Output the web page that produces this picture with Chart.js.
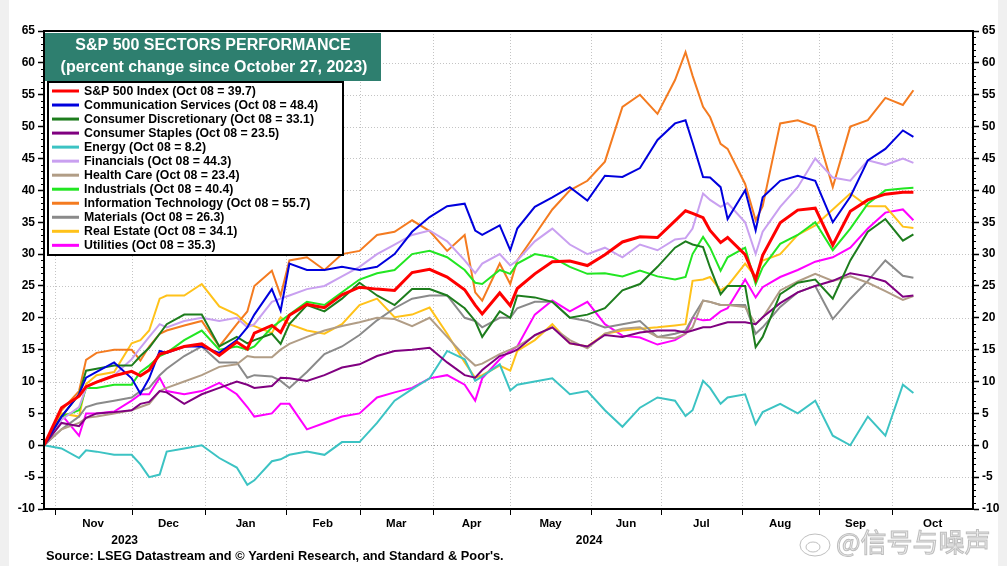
<!DOCTYPE html>
<html><head><meta charset="utf-8">
<script src="https://cdn.jsdelivr.net/npm/chart.js@4.4.1/dist/chart.umd.min.js"></script>
<style>
html,body{margin:0;padding:0;background:#fff;}
canvas{display:block;}
</style></head><body>
<canvas id="c" width="1007" height="566"></canvas>
<script>
// x = weekday index counted from Oct 27, 2023
const xDays = [0,5,10,12,15,20,25,27.5,30,33,35,40,45,50,55,58,60,65,67.5,70,75,80,85,90,95,100,105,110,115,120,123,125,130,133,135,140,145,150,155,160,165,170,175,180,183,185,188,190,193,195,200,203,205,210,215,220,225,230,235,240,245,248];
const monthStarts = [3,25,46,69,90,111,133,156,176,199,221,242,265];
const monthNames = ['Nov','Dec','Jan','Feb','Mar','Apr','May','Jun','Jul','Aug','Sep','Oct'];
const yearLabels = ['2023','2024'];
const yearSpans = [[0,46],[46,265]];

const spx = [0,5.9,7.7,9.2,9.9,10.9,11.6,10.9,11.8,14.3,14.6,15.5,15.9,14.1,16.2,15.1,17.6,18.8,17.7,20.4,22.1,21.6,23.6,24.8,24.5,24.3,27.1,27.6,26.4,24.4,22.0,20.6,23.9,21.9,24.6,26.9,28.8,28.9,28.2,29.9,31.9,32.7,32.6,35.2,36.8,36.4,35.7,33.7,31.8,32.6,29.9,26.0,29.8,34.9,36.9,37.2,31.4,36.7,38.5,39.4,39.7,39.7];
const comm = [0,4.5,8,10.6,11.5,13,10.5,8.1,10.5,14.8,14.5,15.5,15.5,14.5,16.5,18.5,20.5,24.5,21.1,28.5,27.5,27.5,28,27.5,28,30,33.5,35.8,37.5,37.9,33.7,33,34.5,30.6,34,37.4,38.9,40.5,38.4,42.3,42.1,43.5,47.9,50.5,51,47.5,42.1,42,40.5,35.5,40,33.7,38.9,41.5,42.3,41.5,35,39,44.7,46.5,49.4,48.4];
const discr = [0,4.5,8,11.7,12,12.5,12.5,14,15.3,17.5,19,20.5,20.5,15.5,17,16,16.5,17.5,15.9,19,22,21,23,25.5,23.5,22,24.5,24.5,23.5,21.5,19.5,17,21,20,23.5,23.2,22.5,20,20.5,21.5,24.3,25.3,28,31,32,31.5,31.1,27.9,23.7,25,25,15.4,17,23.7,25.5,26,23,29,33.5,35.5,32.1,33.1];
const staples = [0,3.5,3,4.3,5,5.2,5.5,6.5,6.8,8.5,8.3,6.5,8,9,10,9.5,9,9.3,10.6,10.5,10.1,11,12.2,12.7,14,14.8,15,15.3,13,11,10.6,11.8,14,14.5,15,17.3,18.5,16,15.5,17.3,17,17.7,18,18,17.7,18,18.5,18.5,19,19.3,19.3,19,20.1,22.3,24,25,25.8,27,26.5,25.7,23.3,23.5];
const energy = [0,-0.5,-2,-0.8,-1,-1.5,-1.5,-3,-5,-4.6,-1,-0.5,0,-2,-3.5,-6.2,-5.5,-2.5,-2.2,-1.5,-1,-1.5,0.5,0.5,3.5,7,8.8,10.5,14.8,13.5,10.1,10.8,12.7,8.6,9.5,10,10.5,8,8.5,5.5,2.9,5.9,7.5,7,4.6,5.5,10.1,9,6.5,7.5,8,3.3,5.2,6.5,5,7,1.5,0,4.5,1.5,9.5,8.2];
const financials = [0,4,6,9,10,11,13.5,15.3,17,19,18.5,19.5,20,19.5,20,18.5,19,22.5,23,23.5,24.5,25,26.5,28,30,31.5,33,33.7,32,29,27,28.5,30,28.2,29,32,34,31.5,30,31,29.5,31.5,30.6,32.3,32.5,34,39.5,38.5,37.4,38,35,30,33.5,37.4,40.5,45,42,41.5,44.7,44,45,44.3];
const health = [0,2.5,3.5,4.3,4.5,5,5.5,6,6.5,8.5,9,10,11,12.3,12.7,14,13.8,13.8,15,15.9,17,18,18.7,19.3,20,19.8,18.7,20,17,14,12.5,12.8,14.3,15,15.5,17.2,18.5,16.5,15.2,17.5,18.3,18.5,17,16.8,17.5,18.5,22.7,22.5,22,22,21.7,19,20,24.3,25.7,26.9,25.8,26.5,25.5,24.2,22.8,23.4];
const industrials = [0,4.5,5.5,9,9,9.5,9.5,11.5,12.5,14,14.5,16.5,18,15,15.5,15,15.5,18.5,19.5,20.5,22.5,22,24,26,27,27.5,30,30.5,29.5,27.5,25.5,25.3,27.5,26.9,28.5,30,29.5,28,26.9,27,26.5,27.4,26.5,26,26.4,30,32.7,31,27.4,29.5,31,25.3,27.9,31.6,33,35,30.6,34,37.9,40,40.3,40.4];
const infotech = [0,5.5,8.5,13.4,14.5,15,15,13.3,15.5,17.5,18,18.8,19.5,15.5,19,21,25,27.4,23.5,29,29.5,27.5,30,30.5,33,33.5,35.3,33.6,30.5,33,24,22.7,28.5,25.3,29,33,37,40,41.5,44.5,53.1,55,52,57.3,61.7,58,53.1,51.5,47.3,46.5,41,35.3,37.5,50.5,51,50,40.5,50,51,54.5,53.4,55.7];
const materials = [0,2.5,4.5,6,6.5,7,7.5,8.5,9,11,12,14,15.5,13,13,10.6,11,10.8,10.1,9,11.5,14.3,15.5,17.3,19.6,21.5,23,23.5,23.5,20,19.5,18.5,20,20,21.5,22.5,22.5,20,19.5,18.5,19,19.5,17,17.5,18,20,22.7,22.5,22,22,22,17.5,18.5,21.7,24,25,19.8,23,25.8,29,26.6,26.3];
const realEstate = [0,5,4.5,9.6,11,11.5,16,16.5,18,23,23.5,23.5,25.3,21.8,20.5,19,18.7,17.6,20.1,19,18,17.5,19,22,23,20.1,20.5,21.6,17.5,13,10.6,11,12.5,11.7,14.8,16.5,19,16,15.5,17.5,18,18.3,18.5,18.8,19,25.8,26,26.4,24.3,25,28.5,26.4,29,30,33,34.5,37,39.5,37.5,37.5,34.3,34.1];
const utilities = [0,4.8,1.5,5,5,5.3,7,8,8,10.6,8.5,8,8.5,9.8,8,6,4.5,5,6.5,6.5,2.5,3.5,4.5,5,7.5,8.3,9,10.5,11,9.5,7,10.5,13.5,14.8,15.5,20.5,22.7,21,22.5,19,17.2,16.9,15.8,16.5,17.5,20,19.6,19.7,21,21.5,26,23.2,24.8,26.4,27.5,28.8,29.5,31,34,36.5,37,35.3];

const seriesNames = ['S&P 500 Index','Communication Services','Consumer Discretionary','Consumer Staples','Energy','Financials','Health Care','Industrials','Information Technology','Materials','Real Estate','Utilities'];
const seriesValues = [spx,comm,discr,staples,energy,financials,health,industrials,infotech,materials,realEstate,utilities];
const seriesColors = ['#ff0000','#0000dd','#1d7d1d','#800080','#3cc3c3','#c9a0f0','#b19d86','#22e622','#f47b20','#8a8a8a','#ffc21a','#ff00ff'];

const FONT = '"Liberation Sans", Arial, sans-serif';

const datasets = seriesValues.map((s,k)=>({
  label: seriesNames[k] + ' (Oct 08 = ' + s[s.length-1].toFixed(1) + ')',
  data: xDays.map((x,j)=>({x:x, y:s[j]})),
  borderColor: seriesColors[k],
  backgroundColor: seriesColors[k],
  borderWidth: k===0 ? 3 : 2,
  pointRadius: 0,
  tension: 0,
  fill: false,
  yAxisID: 'y'
}));

function seg(ctx,x1,y1,x2,y2){ctx.beginPath();ctx.moveTo(x1,y1);ctx.lineTo(x2,y2);ctx.stroke();}

const decor = {
  id:'decor',
  beforeDraw(chart){
    const ctx=chart.ctx; ctx.save();
    ctx.fillStyle='#fff'; ctx.fillRect(0,0,chart.width,chart.height);
    ctx.fillStyle='#f0f0f0'; ctx.fillRect(0,0,9,chart.height); ctx.fillRect(998,0,9,chart.height);
    ctx.restore();
  },
  beforeDatasetsDraw(chart){
    const {ctx, chartArea:a} = chart; const x=chart.scales.x, y=chart.scales.y;
    ctx.save();
    ctx.lineWidth=1; ctx.setLineDash([1,2]);
    for(let v=-5; v<65; v+=5){
      const py=Math.round(y.getPixelForValue(v))+0.5;
      ctx.strokeStyle = v===0 ? '#9a9a9a' : '#c4c4c4';
      seg(ctx,a.left,py,a.right,py);
    }
    ctx.strokeStyle='#c4c4c4';
    for(const m of monthStarts.slice(0,-1)){
      const px=Math.round(x.getPixelForValue(m))+0.5;
      seg(ctx,px,a.top,px,a.bottom);
    }
    ctx.setLineDash([]);
    ctx.strokeStyle='#000'; ctx.lineWidth=1;
    for(let v=-10; v<=65; v++){
      if(v%5===0) continue;
      const py=Math.round(y.getPixelForValue(v))+0.5;
      seg(ctx,a.left-3,py,a.left,py); seg(ctx,a.right,py,a.right+3,py);
    }
    for(const m of monthStarts.slice(0,-1)){
      const px=Math.round(x.getPixelForValue(m))+0.5;
      seg(ctx,px,a.bottom,px,a.bottom+6);
    }
    ctx.restore();
  },
  afterDatasetsDraw(chart){
    const {ctx, chartArea:a} = chart; const x=chart.scales.x;
    ctx.save();
    ctx.strokeStyle='#000'; ctx.lineWidth=2;
    ctx.strokeRect(a.left, a.top, a.right-a.left, a.bottom-a.top);
    // title box
    ctx.fillStyle='#2e7f6f';
    ctx.fillRect(45,33,336,48);
    ctx.fillStyle='#fff'; ctx.textAlign='center'; ctx.textBaseline='middle';
    ctx.font='bold 16px '+FONT;
    ctx.fillText('S&P 500 SECTORS PERFORMANCE',213,46);
    ctx.fillText('(percent change since October 27, 2023)',214,68);
    // legend box
    ctx.fillStyle='#fff'; ctx.fillRect(48,82,295,173);
    ctx.strokeStyle='#000'; ctx.lineWidth=2; ctx.strokeRect(48,82,295,173);
    ctx.textAlign='left'; ctx.font='bold 12.3px '+FONT;
    chart.data.datasets.forEach((d,k)=>{
      const ly=91+k*14.03;
      ctx.strokeStyle=d.borderColor; ctx.lineWidth=3;
      seg(ctx,52,ly,79,ly);
      ctx.fillStyle='#000'; ctx.fillText(d.label,84,ly+0.5);
    });
    // years
    ctx.textAlign='center'; ctx.font='bold 12px '+FONT; ctx.fillStyle='#000';
    yearLabels.forEach((t,k)=>{
      const cx=(x.getPixelForValue(yearSpans[k][0])+x.getPixelForValue(yearSpans[k][1]))/2;
      ctx.fillText(t,cx,541);
    });
    ctx.textAlign='left'; ctx.font='bold 12.8px '+FONT;
    ctx.fillText("Source: LSEG Datastream and \u00A9 Yardeni Research, and Standard & Poor's.",46,556);
    // watermark
    ctx.font='26px "Noto Sans CJK SC", sans-serif';
    ctx.textBaseline='alphabetic';
    ctx.fillStyle='rgba(236,236,236,0.9)'; ctx.strokeStyle='rgba(175,175,175,0.8)'; ctx.lineWidth=1;
    ctx.fillText('@\u4FE1\u53F7\u4E0E\u566A\u58F0',836,552);
    ctx.strokeText('@\u4FE1\u53F7\u4E0E\u566A\u58F0',836,552);
    ctx.beginPath(); ctx.ellipse(815,545,15,11,0,0,Math.PI*2); ctx.stroke();
    ctx.beginPath(); ctx.ellipse(813,547,7,5,0,0,Math.PI*2); ctx.stroke();
    ctx.restore();
  }
};

const yTickFont = {family:FONT, size:12, weight:'bold'};
new Chart(document.getElementById('c'), {
  type:'line',
  data:{datasets:datasets},
  options:{
    responsive:false, animation:false,
    layout:{padding:{top:31,left:0,right:0,bottom:0}},
    plugins:{legend:{display:false}, tooltip:{enabled:false}},
    scales:{
      x:{type:'linear', position:'bottom', min:0, max:265,
        afterFit(s){s.height=57;},
        afterBuildTicks(s){ s.ticks = monthStarts.slice(0,-1).map((m,k)=>({value:(m+monthStarts[k+1])/2})); },
        ticks:{autoSkip:false, maxRotation:0, minRotation:0, color:'#000', padding:8,
          font:{family:FONT, size:11.5, weight:'bold'},
          callback:(v,i)=>monthNames[i]},
        grid:{display:true, drawOnChartArea:false, drawTicks:false, color:'rgba(0,0,0,0)'},
        border:{display:true, color:'#000', width:2}
      },
      y:{position:'left', min:-10, max:65,
        afterFit(s){s.width=44;},
        ticks:{stepSize:5, color:'#000', padding:3, font:yTickFont},
        grid:{drawOnChartArea:false, drawTicks:true, tickLength:6, tickColor:'#000', tickWidth:1.5},
        border:{display:true, color:'#000', width:2}
      },
      y2:{position:'right', min:-10, max:65,
        afterFit(s){s.width=34;},
        ticks:{stepSize:5, color:'#000', padding:3, font:yTickFont},
        grid:{drawOnChartArea:false, drawTicks:true, tickLength:6, tickColor:'#000', tickWidth:1.5},
        border:{display:true, color:'#000', width:2}
      }
    }
  },
  plugins:[decor]
});
</script>
</body></html>
